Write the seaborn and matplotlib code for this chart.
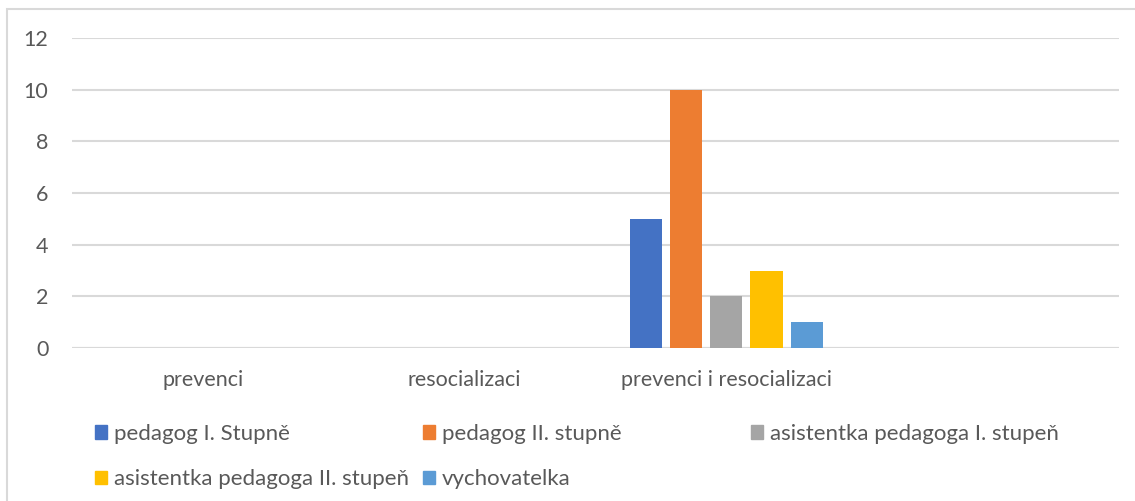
import matplotlib
matplotlib.use("Agg")
import matplotlib.pyplot as plt
import matplotlib.patches as mpatches
import seaborn as sns
import pandas as pd

categories = ["prevenci", "resocializaci", "prevenci i resocializaci", " "]
series = ["pedagog I. Stupně", "pedagog II. stupně", "asistentka pedagoga I. stupeň",
          "asistentka pedagoga II. stupeň", "vychovatelka"]
colors = ["#4472C4", "#ED7D31", "#A5A5A5", "#FFC000", "#5B9BD5"]
values = {
    "pedagog I. Stupně": [0, 0, 5, 0],
    "pedagog II. stupně": [0, 0, 10, 0],
    "asistentka pedagoga I. stupeň": [0, 0, 2, 0],
    "asistentka pedagoga II. stupeň": [0, 0, 3, 0],
    "vychovatelka": [0, 0, 1, 0],
}
yticks = [0, 2, 4, 6, 8, 10, 12]

rows = []
for s in series:
    for c, v in zip(categories, values[s]):
        rows.append({"kategorie": c, "serie": s, "pocet": v})
df = pd.DataFrame(rows)

sns.set_style("white")
plt.rcParams["font.family"] = ["Lato", "DejaVu Sans"]
text_color = "#595959"
grid_color = "#D9D9D9"

fig = plt.figure(figsize=(11.35, 5.01), dpi=100)
ax = fig.add_axes([72 / 1135, 1 - 348 / 501, (1119 - 72) / 1135, (348 - 38) / 501])

sns.barplot(data=df, x="kategorie", y="pocet", hue="serie", order=categories,
            hue_order=series, palette=colors, saturation=1, width=200 / 261, gap=0.2,
            linewidth=0, legend=False, ax=ax, zorder=3)

ax.set_ylim(0, 12)
ax.set_xlim(-0.5, len(categories) - 0.5)
ax.set_yticks(yticks)
ax.yaxis.grid(True, color=grid_color, linewidth=1.5, zorder=0)
ax.set_axisbelow(True)
for sp in ax.spines.values():
    sp.set_visible(False)
ax.axhline(0, color=grid_color, linewidth=1.5, zorder=1)
ax.set_xlabel("")
ax.set_ylabel("")
ax.tick_params(axis="both", length=0, labelsize=15.5, colors=text_color)
ax.tick_params(axis="y", pad=17)
ax.tick_params(axis="x", pad=16)

# legend: three columns at fixed positions, Excel style
col_x = [95 / 1135, 423 / 1135, 751 / 1135]
columns = [[0, 3], [1, 4], [2]]
for x0, idx in zip(col_x, columns):
    handles = [mpatches.Patch(color=colors[i], label=series[i]) for i in idx]
    fig.legend(handles=handles, loc="upper left", bbox_to_anchor=(x0, 1 - 424 / 501),
               frameon=False, fontsize=16, labelcolor=text_color,
               handlelength=0.55, handleheight=0.55, handletextpad=0.3,
               labelspacing=1.13, borderpad=0, borderaxespad=0)

# outer chart border
fig.add_artist(mpatches.Rectangle((7 / 1135, -0.1), 1.2, 1 - 9 / 501 + 0.1,
                                  transform=fig.transFigure, fill=False,
                                  edgecolor=grid_color, linewidth=1.5))

fig.savefig("out.png", dpi=100)
